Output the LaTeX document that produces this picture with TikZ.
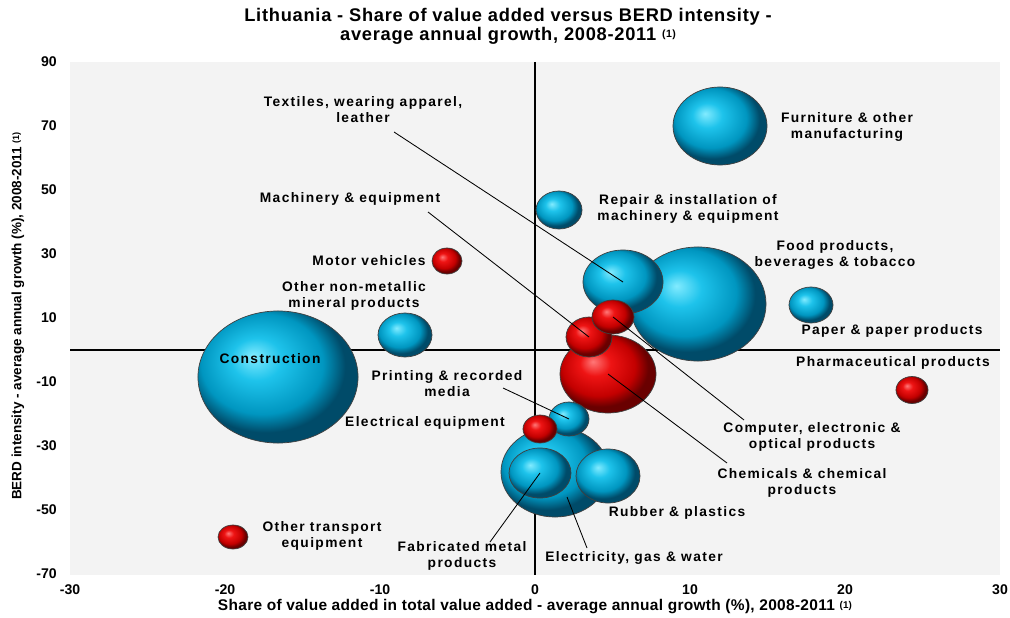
\documentclass[tikz,border=0pt]{standalone}
\usepackage{fontspec}
\setmainfont{Liberation Sans}
\newfontfamily\lblfont[LetterSpace=10]{Liberation Sans}
\newfontfamily\ttlfont[LetterSpace=4]{Liberation Sans}
\newfontfamily\axfont[LetterSpace=2]{Liberation Sans}
\usetikzlibrary{shapes.geometric}
\definecolor{plotbg}{RGB}{243,243,243}
\definecolor{cyA}{RGB}{130,235,255}
\definecolor{cyB}{RGB}{30,195,235}
\definecolor{cyC}{RGB}{0,150,192}
\definecolor{cyD}{RGB}{0,75,105}
\definecolor{rdA}{RGB}{255,120,120}
\definecolor{rdB}{RGB}{238,20,20}
\definecolor{rdC}{RGB}{195,0,0}
\definecolor{rdD}{RGB}{105,0,0}
\pgfdeclareradialshading{cyanball}{\pgfpoint{-8bp}{8bp}}{color(0bp)=(cyA); color(8bp)=(cyB); color(19bp)=(cyC); color(25bp)=(cyD); color(50bp)=(cyD)}
\pgfdeclareradialshading{redball}{\pgfpoint{-8bp}{8bp}}{color(0bp)=(rdA); color(8bp)=(rdB); color(19bp)=(rdC); color(25bp)=(rdD); color(50bp)=(rdD)}
\tikzset{
  bub/.style n args={2}{ellipse, inner sep=0pt, minimum width=#1*0.05cm, minimum height=#2*0.05cm, draw=black!75, line width=0.5pt},
  cb/.style 2 args={bub={#1}{#2}, shading=cyanball},
  rb/.style 2 args={bub={#1}{#2}, shading=redball},
  lbl/.style={font=\lblfont\bfseries\fontsize{9.8}{11.4}\selectfont, align=center, inner sep=0pt},
  tick/.style={font=\bfseries\fontsize{10}{12}\selectfont, inner sep=0pt},
  leader/.style={draw=black, line width=0.6pt},
  axisline/.style={draw=black, line width=2.1pt},
}
\begin{document}
\begin{tikzpicture}[x=0.025cm,y=-0.025cm]
\useasboundingbox (0,0) rectangle (1010,617);
\fill[plotbg] (70,62) rectangle (1000,575);
% axes through origin
\draw[axisline] (535,62) -- (535,575);
\draw[axisline] (70,350) -- (1000,350);
% title
\node[font=\ttlfont\bfseries\fontsize{13}{13.6}\selectfont, align=center, inner sep=0pt] (title) at (508,26.5)
  {Lithuania - Share of value added versus BERD intensity -\\average annual growth, 2008-2011 {\fontsize{7.5}{8}\selectfont\raisebox{0.5ex}{(1)}}};
% y ticks
\foreach \v/\py in {90/62,70/126,50/190,30/254,10/318,-10/382,-30/446,-50/510,-70/574}
  \node[tick, anchor=east] (yt\v) at (57,\py) {\v};
% x ticks
\foreach \v/\px in {-30/70,-20/225,-10/380,0/535,10/690,20/845,30/1000}
  \node[tick] (xt\v) at (\px,590) {\v};
% axis titles
\node[font=\axfont\bfseries\fontsize{11}{12}\selectfont, inner sep=0pt] (xtitle) at (535,607)
  {Share of value added in total value added - average annual growth (\%), 2008-2011 {\fontsize{7}{7}\selectfont\raisebox{0.5ex}{(1)}}};
\node[rotate=90, font=\bfseries\fontsize{9.6}{11}\selectfont, inner sep=0pt] (ytitle) at (18,316)
  {BERD intensity - average annual growth (\%), 2008-2011 {\fontsize{6.5}{7}\selectfont\raisebox{0.5ex}{(1)}}};
% bubbles
\node[cb={68}{57}] (food) at (698,304) {};
\node[cb={40}{32}] (tex) at (623,282) {};
\node[cb={23}{19}] (rep) at (559,210) {};
\node[cb={47}{39}] (fur) at (720,126) {};
\node[cb={22}{18}] (pap) at (811,305) {};
\node[rb={16}{13.5}] (pha) at (912,390) {};
\node[cb={80}{66}] (con) at (278,377) {};
\node[cb={27}{22}] (nmm) at (405,335) {};
\node[rb={15}{13}] (mot) at (447,261) {};
\node[rb={48}{39}] (che) at (608,374) {};
\node[rb={23}{20}] (mac) at (589,337) {};
\node[rb={21}{17}] (com) at (613,317) {};
\node[cb={54}{45}] (ele) at (555,472) {};
\node[cb={31}{25}] (fab) at (540,473) {};
\node[cb={32}{27}] (rub) at (608,476) {};
\node[cb={20}{17}] (pri) at (569,419) {};
\node[rb={17}{14}] (eeq) at (540,429) {};
\node[rb={15}{12}] (otr) at (233,537) {};
% labels
\node[lbl] (Lfur) at (847,127) {Furniture \& other\\manufacturing};
\node[lbl] (Lrep) at (688,209) {Repair \& installation of\\machinery \& equipment};
\node[lbl] (Lfood) at (835,255) {Food products,\\beverages \& tobacco};
\node[lbl] (Lpap) at (892,331) {Paper \& paper products};
\node[lbl] (Lpha) at (893,363) {Pharmaceutical products};
\node[lbl] (Lcom) at (812,437) {Computer, electronic \&\\optical products};
\node[lbl] (Lche) at (802,483) {Chemicals \& chemical\\products};
\node[lbl] (Lrub) at (677,513) {Rubber \& plastics};
\node[lbl] (Lele) at (634,558) {Electricity, gas \& water};
\node[lbl] (Lfab) at (462,556) {Fabricated metal\\products};
\node[lbl] (Lotr) at (322,536) {Other transport\\equipment};
\node[lbl] (Leeq) at (425,423) {Electrical equipment};
\node[lbl] (Lpri) at (447,384) {Printing \& recorded\\media};
\node[lbl] (Lcon) at (270,359) {Construction};
\node[lbl] (Lnmm) at (354,296) {Other non-metallic\\mineral products};
\node[lbl] (Lmot) at (369,261) {Motor vehicles};
\node[lbl] (Lmac) at (350,199) {Machinery \& equipment};
\node[lbl] (Ltex) at (363,110) {Textiles, wearing apparel,\\leather};
% leader ends
\coordinate (ctex) at (394,132);
\coordinate (cmac) at (428,212);
\coordinate (ccom) at (744,420);
\coordinate (cche) at (727,463);
\coordinate (cpri) at (503,388);
\coordinate (cfab) at (490,542);
\coordinate (cele1) at (567,497);
\coordinate (cele2) at (587,548);
\draw[leader] (ctex) -- (tex.center);
\draw[leader] (cmac) -- (mac.center);
\draw[leader] (com.center) -- (ccom);
\draw[leader] (che.center) -- (cche);
\draw[leader] (cpri) -- (pri.center);
\draw[leader] (cfab) -- (fab.center);
\draw[leader] (cele1) -- (cele2);
\end{tikzpicture}
\end{document}
